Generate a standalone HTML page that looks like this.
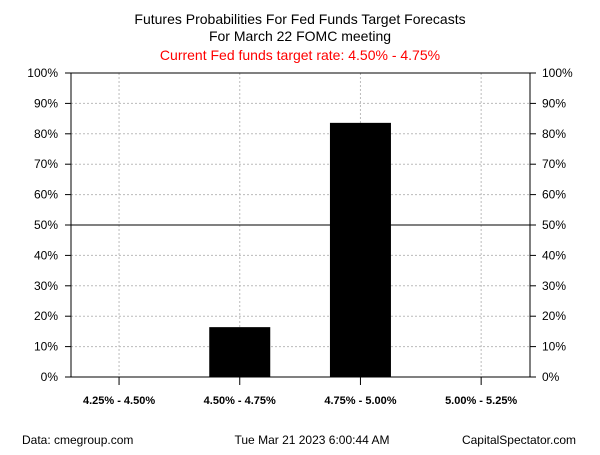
<!DOCTYPE html>
<html><head><meta charset="utf-8"><style>
body{margin:0;background:#fff;font-family:"Liberation Sans",sans-serif}
</style></head><body>
<svg id="c" width="600" height="450" xmlns="http://www.w3.org/2000/svg" font-family="Liberation Sans, sans-serif">
<rect width="600" height="450" fill="#fff"/>
<text x="300" y="24" font-size="14" text-anchor="middle">Futures Probabilities For Fed Funds Target Forecasts</text>
<text x="300" y="41" font-size="14" text-anchor="middle">For March 22 FOMC meeting</text>
<text x="300" y="60" font-size="14" fill="#ff0000" text-anchor="middle">Current Fed funds target rate: 4.50% - 4.75%</text>
<g id="grid"></g><g id="bars"></g><g id="axes"></g>
<text x="22" y="444" font-size="12">Data: cmegroup.com</text>
<text x="312" y="444" font-size="12" text-anchor="middle">Tue Mar 21 2023 6:00:44 AM</text>
<text x="576" y="444" font-size="12" text-anchor="end">CapitalSpectator.com</text>
</svg>
<script>
const categories=["4.25% - 4.50%","4.50% - 4.75%","4.75% - 5.00%","5.00% - 5.25%"];
const probabilities=[0,16.4,83.6,0];
const yTicks=[0,10,20,30,40,50,60,70,80,90,100];
const L=71,R=530,T=73,B=377;
const X0=58.7,step=120.7,barW=61;
const x=i=>X0+step*(i+0.5);
const y=v=>B-(B-T)*v/100;
const NS="http://www.w3.org/2000/svg";
function mk(p,tag,a){const e=document.createElementNS(NS,tag);for(const k in a)e.setAttribute(k,a[k]);document.getElementById(p).appendChild(e);return e;}
yTicks.forEach(t=>{
 if(t>0&&t<100&&t!==50){const g=mk('grid','line',{x1:L,x2:R,y1:y(t),y2:y(t),stroke:'#bbb','stroke-dasharray':'2,2'});
 
 }
 mk('axes','line',{x1:L-6,x2:L,y1:y(t),y2:y(t),stroke:'#000'});
 mk('axes','line',{x1:R,x2:R+6,y1:y(t),y2:y(t),stroke:'#000'});
 const a=mk('axes','text',{x:L-13,y:y(t)+4,'font-size':12,'text-anchor':'end'});a.textContent=t+'%';
 
 
 const b=mk('axes','text',{x:R+12,y:y(t)+4,'font-size':12});b.textContent=t+'%';
 
 
});
categories.forEach((c,i)=>{
 const g=mk('grid','line',{x1:x(i),x2:x(i),y1:T,y2:B,stroke:'#bbb','stroke-dasharray':'2,2'});
 
 
 const h=B-y(probabilities[i]);
 if(h>0){const r=mk('bars','rect',{x:x(i)-barW/2,y:y(probabilities[i]),width:barW,height:h,fill:'#000'});
 
 }
 mk('axes','line',{x1:x(i),x2:x(i),y1:B,y2:B+8,stroke:'#000'});
 const t=mk('axes','text',{x:x(i),y:B+27,'font-size':11,'font-weight':'bold','text-anchor':'middle'});t.textContent=c;
 
 
});
mk('axes','line',{x1:L,x2:R,y1:y(50),y2:y(50),stroke:'#000'});
mk('axes','rect',{x:L,y:T,width:R-L,height:B-T,fill:'none',stroke:'#000'});
</script>
</body></html>
